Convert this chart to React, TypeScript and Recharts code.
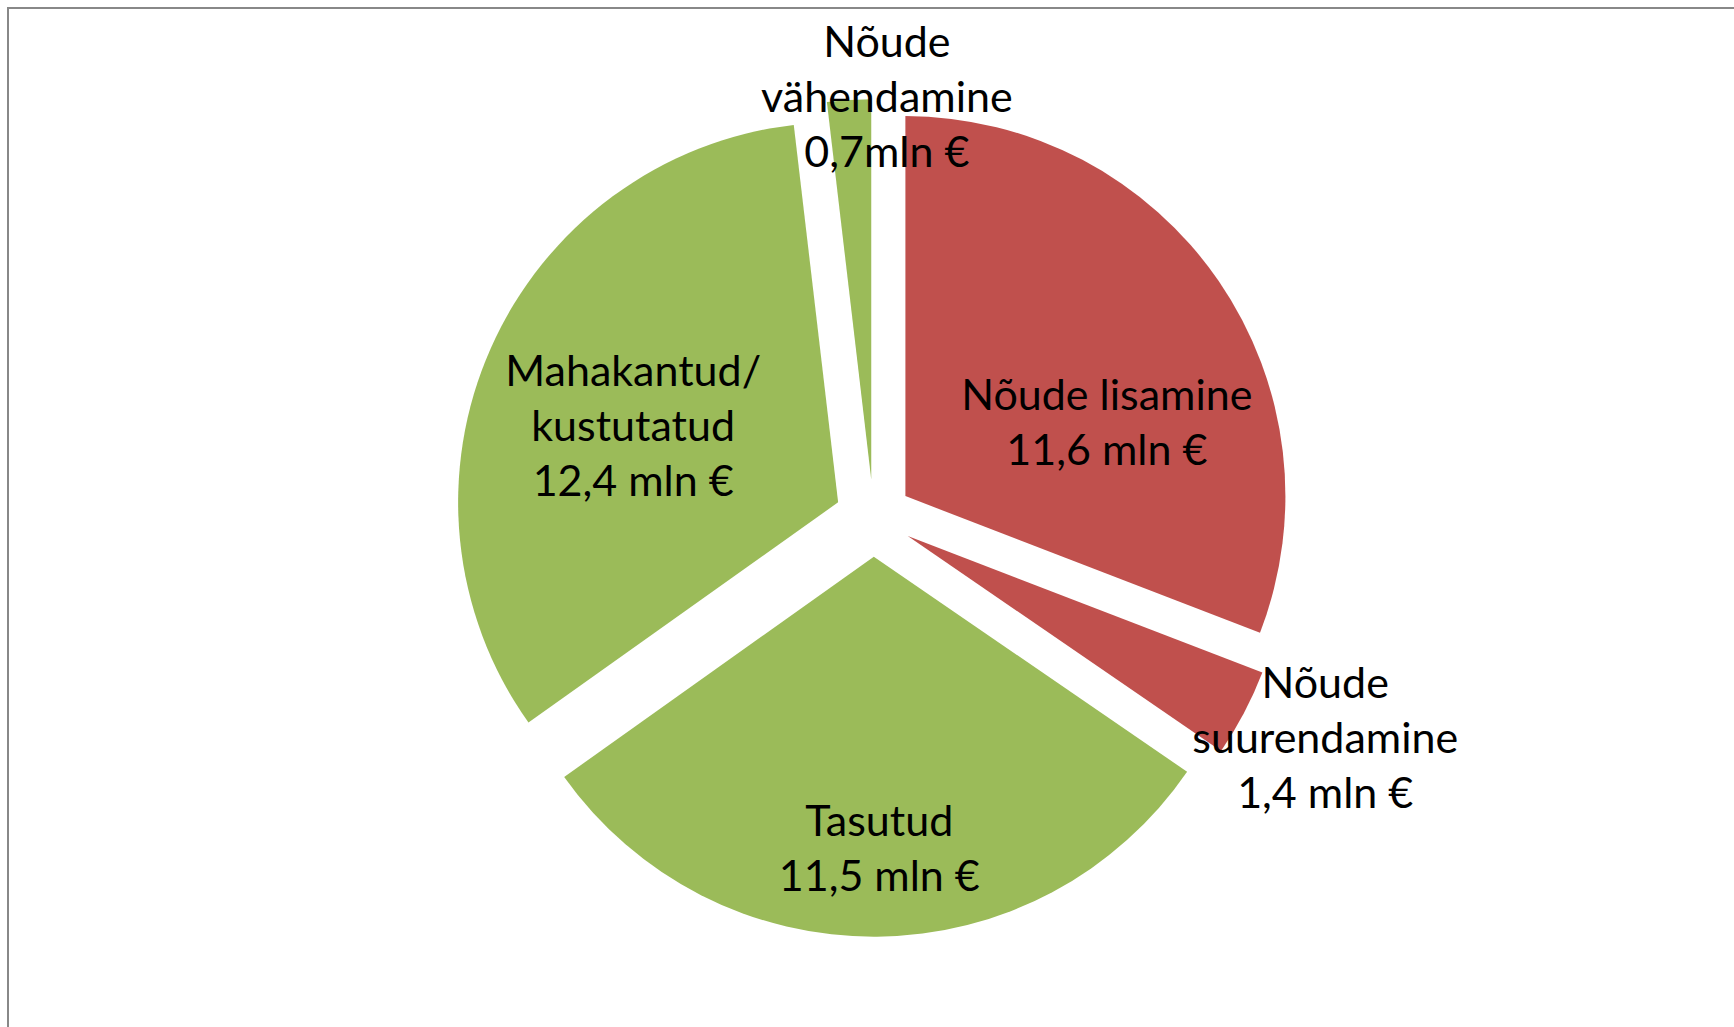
import React from 'react'
import { PieChart, Pie, Cell } from 'recharts'

// slice names (line breaks as in the original labels)
const names = [
  'Nõude lisamine',
  'Nõude\nsuurendamine',
  'Tasutud',
  'Mahakantud/\nkustutatud',
  'Nõude\nvähendamine',
]

// amounts, mln €
const values = [11.6, 1.4, 11.5, 12.4, 0.7]

const valueLabels = ['11,6 mln €', '1,4 mln €', '11,5 mln €', '12,4 mln €', '0,7mln €']

const RED = '#C0504D'
const GREEN = '#9BBB59'
const colors = [RED, RED, GREEN, GREEN, GREEN]

const data = names.map((name, i) => ({ name, value: values[i], label: valueLabels[i] }))

const WIDTH = 1734
const HEIGHT = 1027
const CX = 873.5
const CY = 518
const RADIUS = 380
const EXPLODE = 38.7
const FONT_SIZE = 43
const LINE_H = 55
const CAP = 30

// label position per slice: radius factor and angle offset from the slice middle (degrees)
const labelPlacement = [
  { r: 0.564, off: 14.5 },
  { r: 1.221, off: -1.9 },
  { r: 0.767, off: -0.6 },
  { r: 0.576, off: -3.4 },
  { r: 1.006, off: 5.7 },
]

const RAD = Math.PI / 180
const total = values.reduce((a, b) => a + b, 0)

// middle angle of each slice, clockwise from 12 o'clock
const midAngles = (() => {
  let acc = 0
  return values.map((v) => {
    const m = ((acc + v / 2) / total) * 360
    acc += v
    return m
  })
})()

const explodeOffset = (theta: number) => ({
  dx: EXPLODE * Math.sin(theta * RAD),
  dy: -EXPLODE * Math.cos(theta * RAD),
})

const renderLabel = (props: any) => {
  const { cx, cy, midAngle, outerRadius, index, payload } = props
  const theta = 90 - midAngle
  const { dx, dy } = explodeOffset(theta)
  const place = labelPlacement[index]
  const phi = (theta + place.off) * RAD
  const x = cx + dx + place.r * outerRadius * Math.sin(phi)
  const y = cy + dy - place.r * outerRadius * Math.cos(phi)
  const entry = payload && payload.name ? payload : data[index]
  const lines = [...String(entry.name).split('\n'), entry.label]
  const n = lines.length
  return (
    <text
      key={`label-${index}`}
      x={x}
      y={y}
      textAnchor="middle"
      fill="#000"
      fontFamily="Lato, 'Noto Sans', sans-serif"
      fontSize={FONT_SIZE}
    >
      {lines.map((line, i) => (
        <tspan key={i} x={x} y={y + (i - (n - 1) / 2) * LINE_H + CAP / 2}>
          {line}
        </tspan>
      ))}
    </text>
  )
}

export default function App() {
  return (
    <div
      style={{
        position: 'absolute',
        left: 0,
        top: 0,
        width: WIDTH,
        height: HEIGHT,
        overflow: 'hidden',
        background: '#fff',
      }}
    >
      <div
        style={{
          position: 'absolute',
          left: 7,
          top: 7,
          width: WIDTH + 100,
          height: HEIGHT + 100,
          borderLeft: '2px solid #888',
          borderTop: '2px solid #888',
        }}
      />
      <div style={{ position: 'absolute', left: 0, top: 0 }}>
        <PieChart width={WIDTH} height={HEIGHT} margin={{ top: 0, right: 0, bottom: 0, left: 0 }}>
          <Pie
            data={data}
            dataKey="value"
            nameKey="name"
            cx={CX}
            cy={CY}
            outerRadius={RADIUS}
            startAngle={90}
            endAngle={-270}
            stroke="none"
            labelLine={false}
            label={renderLabel}
            isAnimationActive={false}
          >
            {data.map((_entry, index) => {
              const { dx, dy } = explodeOffset(midAngles[index])
              return (
                <Cell
                  key={`cell-${index}`}
                  fill={colors[index]}
                  transform={`translate(${dx},${dy})`}
                />
              )
            })}
          </Pie>
        </PieChart>
      </div>
    </div>
  )
}
